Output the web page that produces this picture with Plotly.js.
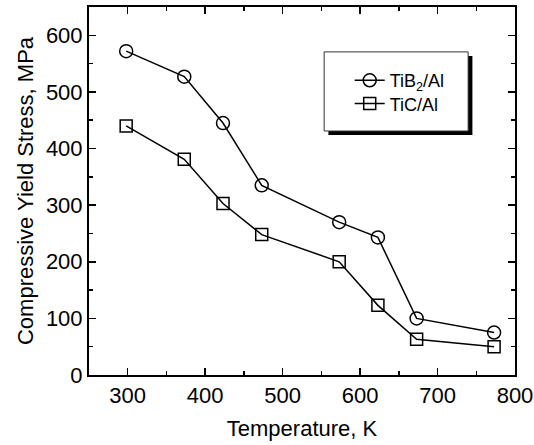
<!DOCTYPE html>
<html><head><meta charset="utf-8">
<script src="https://cdn.plot.ly/plotly-3.0.1.min.js"></script>
<style>html,body{margin:0;padding:0;background:#fff}#chart{width:534px;height:445px}</style>
</head><body><div id="chart"></div>
<script>
const temperature = [298, 373, 423, 473, 573, 623, 673, 773];
const tib2Stress = [572, 527, 445, 335, 270, 243, 100, 75];
const ticStress = [440, 381, 303, 248, 200, 123, 63, 50];
const seriesNames = ["TiB<sub>2</sub>/Al", "TiC/Al"];

const font = "Liberation Sans, Arial, sans-serif";
const traces = [
  {x: temperature, y: tib2Stress, name: seriesNames[0], mode: "lines+markers", legend: "legend",
   line: {color: "#000", width: 1.5},
   marker: {symbol: "circle-open", size: 13, color: "#000", line: {width: 1.5, color: "#000"}}},
  {x: temperature, y: ticStress, name: seriesNames[1], mode: "lines+markers", legend: "legend2",
   line: {color: "#000", width: 1.5},
   marker: {symbol: "square-open", size: 12, color: "#000", line: {width: 1.5, color: "#000"}}}
];
const axisCommon = {
  showline: true, linecolor: "#000", linewidth: 2, mirror: "allticks",
  ticks: "inside", ticklen: 7, tickwidth: 1.5, tickcolor: "#000",
  showgrid: false, zeroline: false,
  tickfont: {family: font, size: 22, color: "#000"},
  minor: {ticks: "inside", ticklen: 4, tickwidth: 1.5, tickcolor: "#000", dtick: 50}
};
const legendCommon = {xanchor: "left", yanchor: "middle", bgcolor: "rgba(0,0,0,0)",
  borderwidth: 0, font: {family: font, size: 18, color: "#000"}};
const layout = {
  width: 534, height: 445,
  margin: {l: 89, r: 19, t: 7, b: 70},
  paper_bgcolor: "#fff", plot_bgcolor: "#fff",
  showlegend: true,
  xaxis: Object.assign({}, axisCommon, {range: [250, 800], dtick: 100, tick0: 300,
    title: {text: "Temperature, K", font: {family: font, size: 22, color: "#000"}, standoff: 13}}),
  yaxis: Object.assign({}, axisCommon, {range: [0, 650], dtick: 100, tick0: 0,
    title: {text: "Compressive Yield Stress, MPa", font: {family: font, size: 22, color: "#000"}, standoff: 6}}),
  legend: Object.assign({}, legendCommon, {x: 0.612, y: 0.80}),
  legend2: Object.assign({}, legendCommon, {x: 0.612, y: 0.737}),
  shapes: [
    {type: "rect", xref: "paper", yref: "paper", x0: 0.562, x1: 0.9, y0: 0.652, y1: 0.867,
     fillcolor: "#000", line: {width: 0}, layer: "above"},
    {type: "rect", xref: "paper", yref: "paper", x0: 0.552, x1: 0.89, y0: 0.663, y1: 0.878,
     fillcolor: "#fff", line: {width: 1, color: "#333"}, layer: "above"}
  ]
};
Plotly.newPlot("chart", traces, layout, {displayModeBar: false, staticPlot: true});
</script></body></html>
